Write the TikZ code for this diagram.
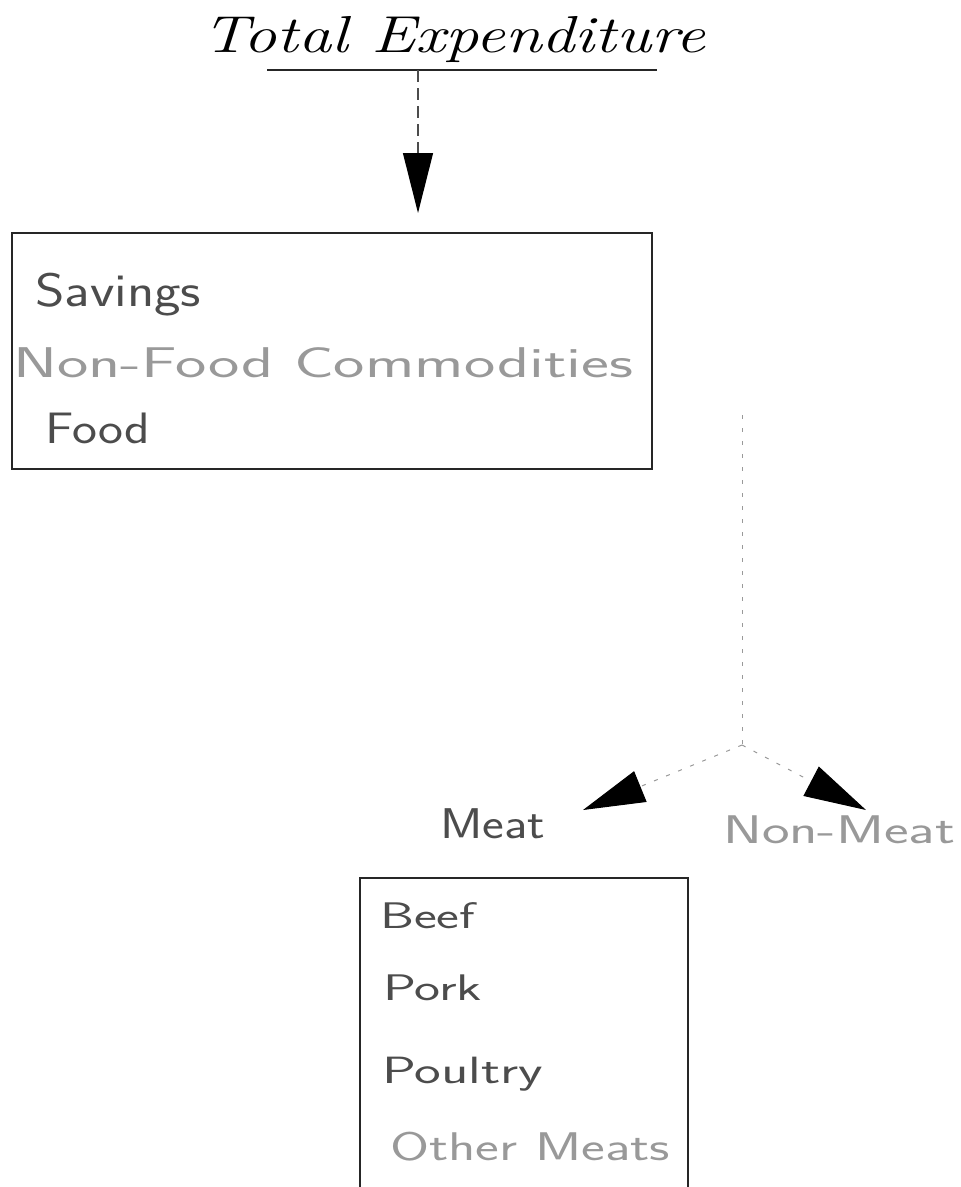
\documentclass[tikz,border=0pt]{standalone}
\usepackage{fontspec}
\usepackage{graphicx}
\usetikzlibrary{arrows.meta}

% text of a given width (pt) and font size (pt), stretched horizontally only
\newcommand{\spread}[3]{\resizebox{#1pt}{\height}{\fontsize{#2}{#2}\selectfont #3}}

\tikzset{
  itemtext/.style={anchor=base west, inner sep=0pt, font=\sffamily, text=black!70},
  faint/.style={text=black!40},
  frame/.style={draw=black!85, line width=1.2pt},
  link/.style={draw=black!70, line width=1.2pt, dash pattern=on 12pt off 6pt},
  thinlink/.style={draw=black!40, line width=1pt, dash pattern=on 4pt off 9pt},
  bighead/.style={-{Triangle[length=60pt,width=30pt,color=black]}},
  sidehead/.style={-{Triangle[length=62pt,width=33pt,color=black]}}
}

\begin{document}
\begin{tikzpicture}[x=1pt,y=-1pt]
  \useasboundingbox (0,0) rectangle (961,1187);

  % heading with its rule
  \node[anchor=base west, inner sep=0pt] (title) at (202,52)
    {\spread{503}{52}{\itshape Total Expenditure}};
  \coordinate (ruleL) at (267,70);
  \coordinate (ruleR) at (657,70);
  \draw[black!85, line width=1.4pt] (ruleL) -- (ruleR);
  \coordinate (rulefoot) at (418,70);
  \coordinate (boxtop) at (418,213);

  % first budget stage
  \node[frame, minimum width=640pt, minimum height=236pt, inner sep=0pt] (box1) at (332,351) {};
  \node[itemtext] (savings) at (35,306) {\spread{166}{47}{Savings}};
  \node[itemtext, faint] (nonfood) at (13,377) {\spread{620}{43}{Non-Food Commodities}};
  \node[itemtext] (food) at (45,443) {\spread{105}{44}{Food}};

  \draw[link, bighead] (rulefoot) -- (boxtop);

  % split of food into meat and non-meat
  \coordinate (foodout) at (742,415);
  \coordinate (split) at (742,745);
  \coordinate (meattip) at (583,810);
  \coordinate (nonmeattip) at (866,810);
  \draw[thinlink] (foodout) -- (split);
  \draw[thinlink, sidehead] (split) -- (meattip);
  \draw[thinlink, sidehead] (split) -- (nonmeattip);

  \node[itemtext] (meat) at (440,838) {\spread{105}{43}{Meat}};
  \node[itemtext, faint] (nonmeat) at (723,843) {\spread{232}{40}{Non-Meat}};

  % meat categories, box open at the bottom
  \coordinate (b2bl) at (360,1187);
  \coordinate (b2tl) at (360,878);
  \coordinate (b2tr) at (688,878);
  \coordinate (b2br) at (688,1187);
  \draw[frame] (b2bl) -- (b2tl) -- (b2tr) -- (b2br);

  \node[itemtext] (beef) at (380,928) {\spread{95}{37}{Beef}};
  \node[itemtext] (pork) at (383,1000) {\spread{99}{37}{Pork}};
  \node[itemtext] (poultry) at (382,1083) {\spread{161}{38}{Poultry}};
  \node[itemtext, faint] (othermeats) at (390,1160) {\spread{280}{40}{Other Meats}};
\end{tikzpicture}
\end{document}
